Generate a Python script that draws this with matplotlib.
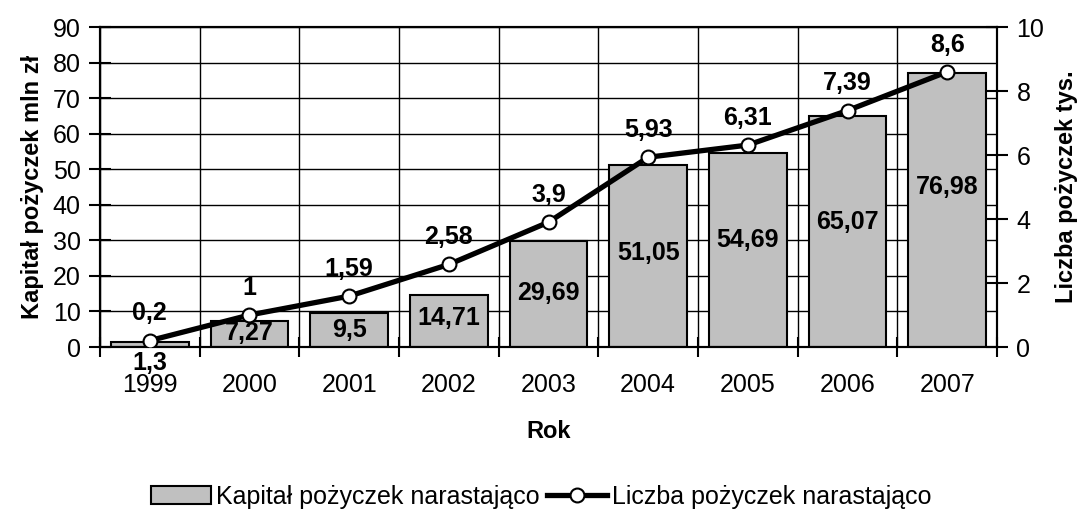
import matplotlib
matplotlib.use("Agg")
import matplotlib.pyplot as plt
from matplotlib.patches import Patch
from matplotlib.lines import Line2D

plt.rcParams["font.family"] = ["Liberation Sans", "DejaVu Sans"]

years = ["1999", "2000", "2001", "2002", "2003", "2004", "2005", "2006", "2007"]
kapital = [1.3, 7.27, 9.5, 14.71, 29.69, 51.05, 54.69, 65.07, 76.98]
liczba = [0.2, 1, 1.59, 2.58, 3.9, 5.93, 6.31, 7.39, 8.6]
kapital_labels = ["1,3", "7,27", "9,5", "14,71", "29,69", "51,05", "54,69", "65,07", "76,98"]
liczba_labels = ["0,2", "1", "1,59", "2,58", "3,9", "5,93", "6,31", "7,39", "8,6"]
# where the bar labels sit (left-axis units)
kapital_label_y = [-4.4, 3.9, 4.8, 8.2, 15.2, 26.4, 30.1, 35.2, 45.0]

fig = plt.figure(figsize=(10.83, 5.11), dpi=100)
ax = fig.add_axes([100 / 1083, 1 - 347 / 511, 897 / 1083, 320 / 511])
ax2 = ax.twinx()

x = list(range(len(years)))
ax.bar(x, kapital, width=0.78, color="#C0C0C0", edgecolor="black", linewidth=1.5, zorder=2)
ax.set_xlim(-0.5, len(years) - 0.5)
ax.set_ylim(0, 90)
ax.set_yticks(range(0, 91, 10))
ax.set_xticks(x)
ax.set_xticklabels(years)
ax.tick_params(axis="x", length=0, labelsize=18, pad=19)
ax.set_xticks([i - 0.5 for i in range(len(years) + 1)], minor=True)
ax.tick_params(axis="x", which="minor", direction="inout", length=14, width=1.5)
ax.tick_params(axis="y", direction="inout", length=16, width=1.5, labelsize=18, pad=6)
ax.grid(True, which="minor", axis="x", color="black", linewidth=1)
ax.grid(True, which="major", axis="y", color="black", linewidth=1)
ax.set_axisbelow(True)
for s in ax.spines.values():
    s.set_linewidth(1.5)

for xi, yl, txt in zip(x, kapital_label_y, kapital_labels):
    ax.text(xi, yl, txt, ha="center", va="center", fontsize=18, fontweight="bold",
            clip_on=False, zorder=3)

ax2.plot(x, liczba, "-o", color="black", linewidth=3.8, markersize=10,
         markerfacecolor="white", markeredgecolor="black", markeredgewidth=1.5, zorder=4)
ax2.set_ylim(0, 10)
ax2.set_yticks(range(0, 11, 2))
ax2.tick_params(axis="y", direction="inout", length=16, width=1.5, labelsize=18, pad=6)
for s in ax2.spines.values():
    s.set_linewidth(1.5)

for xi, yv, txt in zip(x, liczba, liczba_labels):
    ax2.annotate(txt, (xi, yv), xytext=(0, 11), textcoords="offset points",
                 ha="center", va="bottom", fontsize=18, fontweight="bold")

ax.set_xlabel("Rok", fontsize=17, fontweight="bold", labelpad=16)
ax.set_ylabel("Kapitał pożyczek mln zł", fontsize=17, fontweight="bold", labelpad=6)
ax2.set_ylabel("Liczba pożyczek tys.", fontsize=17, fontweight="bold", labelpad=8)

handles = [
    Patch(facecolor="#C0C0C0", edgecolor="black", linewidth=1.5),
    Line2D([], [], color="black", linewidth=3.8, marker="o", markersize=10,
           markerfacecolor="white", markeredgecolor="black", markeredgewidth=1.5),
]
fig.legend(handles, ["Kapitał pożyczek narastająco", "Liczba pożyczek narastająco"],
           loc="center", bbox_to_anchor=(0.5, 1 - 497 / 511), ncol=2, frameon=False,
           fontsize=18, handlelength=2.4, handletextpad=0.2, columnspacing=0.3,
           handleheight=0.75)

fig.savefig("out.png", dpi=100)
